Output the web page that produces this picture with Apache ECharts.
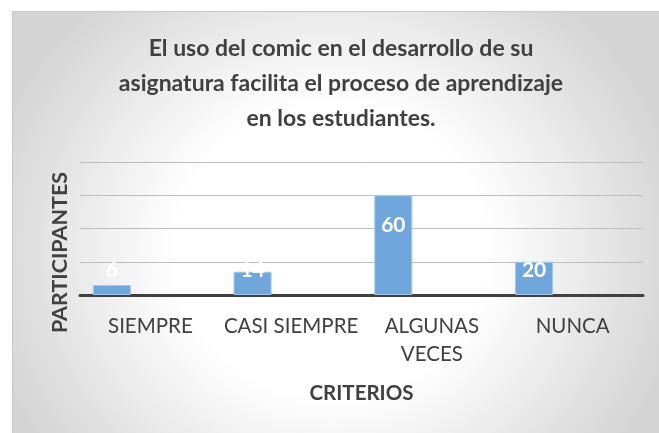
<!DOCTYPE html>
<html>
<head>
<meta charset="utf-8">
<title>El uso del comic</title>
<script src="https://cdn.jsdelivr.net/npm/echarts@6/dist/echarts.min.js"></script>
<style>
    html, body {
        margin: 0;
        padding: 0;
        background: #ffffff;
    }

    #frame {
        position: absolute;
        left: 12px;
        top: 11px;
        width: 647px;
        height: 422px;
        box-sizing: border-box;
        border: 1px solid #c8c8c8;
        border-right: none;
        border-bottom: none;
        background: radial-gradient(ellipse 355px 330px at 318px 239px, #ffffff 0%, #ffffff 44%, #d4d4d4 100%);
    }

    #chart {
        position: absolute;
        left: 0;
        top: 0;
        width: 659px;
        height: 433px;
    }
</style>
</head>
<body>
<div id="frame"></div>
<div id="chart"></div>
<script>
// 数据
const categories = ['SIEMPRE', 'CASI SIEMPRE', 'ALGUNAS VECES', 'NUNCA']
const participantes = [6, 14, 60, 20]
// serie vacía del original (deja las barras a la izquierda de cada categoría)
const serieVacia = [null, null, null, null]
const yTicks = [0, 20, 40, 60, 80]

const titulo = 'El uso del comic en el desarrollo de su\nasignatura facilita el proceso de aprendizaje\nen los estudiantes.'

const textColor = '#404040'
const fontFamily = 'Lato, "Open Sans", sans-serif'

// desplazamiento vertical de cada etiqueta de valor
const labelShift = [-30, -17, 14, -7]

const chart = echarts.init(document.getElementById('chart'))

chart.setOption({
    backgroundColor: 'transparent',
    textStyle: { fontFamily: fontFamily },
    title: {
        text: titulo,
        left: 341,
        top: 31,
        padding: 0,
        textAlign: 'center',
        textStyle: {
            fontFamily: fontFamily,
            fontSize: 23,
            fontWeight: 'bold',
            color: textColor,
            lineHeight: 35,
        },
    },
    grid: {
        left: 80,
        right: 16,
        top: 162,
        bottom: 138,
    },
    xAxis: {
        type: 'category',
        data: categories,
        name: 'CRITERIOS',
        nameLocation: 'middle',
        nameGap: 88,
        nameTextStyle: {
            fontFamily: fontFamily,
            fontSize: 20.5,
            fontWeight: 'bold',
            color: textColor,
        },
        axisLine: {
            lineStyle: { color: '#404040', width: 3 },
        },
        axisTick: { show: false },
        axisLabel: {
            interval: 0,
            margin: 17,
            color: textColor,
            fontSize: 20.5,
            lineHeight: 28,
            fontFamily: fontFamily,
            formatter: (v) => (v === 'ALGUNAS VECES' ? 'ALGUNAS\nVECES' : v),
        },
    },
    yAxis: {
        type: 'value',
        min: yTicks[0],
        max: yTicks[yTicks.length - 1],
        interval: yTicks[1] - yTicks[0],
        name: 'PARTICIPANTES',
        nameLocation: 'middle',
        nameGap: 9,
        nameTextStyle: {
            fontFamily: fontFamily,
            fontSize: 21.5,
            fontWeight: 'bold',
            color: textColor,
            padding: [0, 48, 0, 0],
        },
        axisLabel: { show: false },
        axisLine: { show: false },
        axisTick: { show: false },
        splitLine: {
            lineStyle: { color: '#bdbdbd', width: 1 },
        },
    },
    series: [
        {
            name: 'Participantes',
            type: 'bar',
            barWidth: 38,
            barGap: '103%',
            data: participantes.map((v, i) => ({
                value: v,
                label: { offset: [0, labelShift[i]] },
            })),
            itemStyle: {
                color: '#6fa7dc',
                borderColor: '#a3c6e8',
                borderWidth: 1,
            },
            label: {
                show: true,
                position: 'insideTop',
                distance: 5,
                color: '#ffffff',
                fontSize: 21,
                fontWeight: 'bold',
                fontFamily: fontFamily,
            },
        },
        {
            name: 'Serie 2',
            type: 'bar',
            barWidth: 38,
            data: serieVacia,
        },
    ],
})
</script>
</body>
</html>
